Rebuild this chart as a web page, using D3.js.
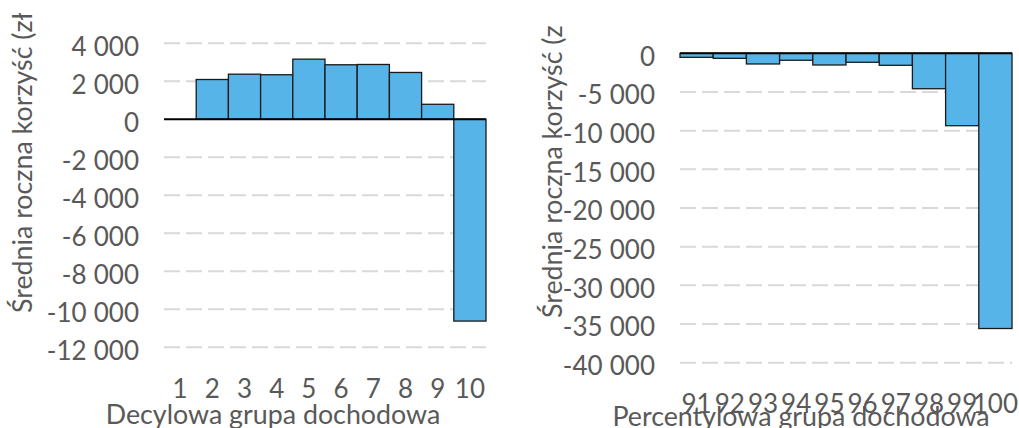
<!DOCTYPE html>
<html>
<head>
<meta charset="utf-8">
<script src="https://cdn.jsdelivr.net/npm/d3@7"></script>
<style>
  html, body { margin: 0; padding: 0; background: #fff; }
  svg { display: block; font-family: Lato, "Noto Sans", sans-serif; }
</style>
</head>
<body>
<svg id="chart" width="1019" height="428"></svg>
<script>
// Decile groups and average annual benefit (PLN)
const decileGroups = ["1", "2", "3", "4", "5", "6", "7", "8", "9", "10"];
const decileValues = [0, 2095, 2375, 2345, 3165, 2870, 2885, 2465, 790, -10620];
const decileTicks = [4000, 2000, 0, -2000, -4000, -6000, -8000, -10000, -12000];

// Top percentile groups and average annual benefit (PLN)
const percentileGroups = ["91", "92", "93", "94", "95", "96", "97", "98", "99", "100"];
const percentileValues = [-520, -650, -1380, -900, -1510, -1160, -1550, -4580, -9360, -35580];
const percentileTicks = [0, -5000, -10000, -15000, -20000, -25000, -30000, -35000, -40000];

const yTitleLeft = "Średnia roczna korzyść (zł)";
const yTitleRight = "Średnia roczna korzyść (zł)";
const xTitleLeft = "Decylowa grupa dochodowa";
const xTitleRight = "Percentylowa grupa dochodowa";

const pl = d3.formatLocale({ decimal: ",", thousands: "\u00a0", grouping: [3], currency: ["", " zł"], minus: "-" });
const fmt = pl.format(",d");

const svg = d3.select("#chart");
const defs = svg.append("defs");
const textColor = "#595959";
const barFill = "#56B4E9";
const tickSize = 26;
const titleSize = 26.8;

function panel(cfg) {
  const g = svg.append("g");
  const x = d3.scaleBand().domain(cfg.groups).range([cfg.x0, cfg.x1]).padding(0);
  const y = d3.scaleLinear().domain(cfg.domain).range([cfg.y0, cfg.y1]);

  // dashed gridlines
  g.append("g").selectAll("line")
    .data(cfg.ticks.filter(t => t !== 0))
    .join("line")
    .attr("x1", cfg.x0).attr("x2", cfg.x1)
    .attr("y1", d => y(d)).attr("y2", d => y(d))
    .attr("stroke", "#d9d9d9").attr("stroke-width", 2)
    .attr("stroke-dasharray", "16 6");

  // y axis labels
  const yAxis = d3.axisLeft(y).tickValues(cfg.ticks).tickFormat(fmt).tickSize(0).tickPadding(0);
  const ya = g.append("g").attr("transform", `translate(${cfg.labelRight},0)`).call(yAxis);
  ya.select(".domain").remove();
  ya.selectAll("text")
    .attr("font-size", tickSize).attr("fill", textColor)
    .attr("font-family", "Lato").attr("dy", "0.45em")
    .attr("word-spacing", 0.5);

  // bars
  g.append("g").selectAll("rect")
    .data(cfg.values)
    .join("rect")
    .attr("x", (d, i) => x(cfg.groups[i]))
    .attr("width", x.bandwidth())
    .attr("y", d => Math.min(y(d), y(0)))
    .attr("height", d => Math.abs(y(d) - y(0)))
    .attr("fill", barFill)
    .attr("stroke", "#1a1a1a").attr("stroke-width", 1.3);

  // zero line
  g.append("line")
    .attr("x1", cfg.x0).attr("x2", cfg.x1)
    .attr("y1", y(0)).attr("y2", y(0))
    .attr("stroke", "#000").attr("stroke-width", 2);

  // x axis labels
  const xAxis = d3.axisBottom(x).tickSize(0).tickPadding(0);
  const xa = g.append("g").attr("transform", `translate(0,${cfg.xLabelY})`).call(xAxis);
  xa.select(".domain").remove();
  xa.selectAll("text")
    .attr("font-size", tickSize).attr("fill", textColor)
    .attr("font-family", "Lato").attr("dy", 0);

  // axis titles
  g.append("text")
    .attr("x", cfg.xTitleX).attr("y", cfg.xTitleY)
    .attr("text-anchor", "middle")
    .attr("font-size", titleSize).attr("fill", textColor)
    .text(cfg.xTitle);

  // the vertical title is cut off where the chart area ends
  defs.append("clipPath").attr("id", cfg.id + "-ytitle")
    .append("rect")
    .attr("x", cfg.yTitleX - 40).attr("y", cfg.yTitleClip)
    .attr("width", 60).attr("height", 428);

  g.append("g").attr("clip-path", `url(#${cfg.id}-ytitle)`)
    .append("text")
    .attr("transform", `translate(${cfg.yTitleX},${cfg.yTitleY}) rotate(-90)`)
    .attr("text-anchor", "start")
    .attr("font-size", titleSize).attr("fill", textColor)
    .text(cfg.yTitle);
}

panel({
  id: "deciles",
  groups: decileGroups, values: decileValues, ticks: decileTicks,
  domain: [4000, -12000], x0: 164, x1: 486, y0: 43.3, y1: 347.3,
  labelRight: 139, xLabelY: 398,
  xTitle: xTitleLeft, xTitleX: 273, xTitleY: 424,
  yTitle: yTitleLeft, yTitleX: 32, yTitleY: 313, yTitleClip: 13
});

panel({
  id: "percentiles",
  groups: percentileGroups, values: percentileValues, ticks: percentileTicks,
  domain: [0, -40000], x0: 680, x1: 1012, y0: 53.3, y1: 362.7,
  labelRight: 655, xLabelY: 413,
  xTitle: xTitleRight, xTitleX: 801, xTitleY: 426,
  yTitle: yTitleRight, yTitleX: 562, yTitleY: 318, yTitleClip: 25
});
</script>
</body>
</html>
